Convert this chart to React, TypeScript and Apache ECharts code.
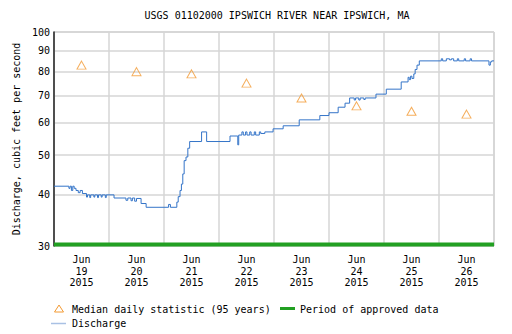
import React, { useEffect, useRef } from "react";
import * as echarts from "echarts";

const TITLE = "USGS 01102000 IPSWICH RIVER NEAR IPSWICH, MA";
const Y_NAME = "Discharge, cubic feet per second";
const MONTH = "Jun";
const YEAR = "2015";
const dayLabels = ["19", "20", "21", "22", "23", "24", "25", "26"];
const yTicks = [30, 40, 50, 60, 70, 80, 90, 100];

// median daily statistic (95 years), placed at noon of each day (hours since Jun 19 00:00)
const medianHours = [12, 36, 60, 84, 108, 132, 156, 180];
const medianValues = [83, 80, 79, 75, 69, 66, 64, 63];

// period of approved data (hours) and its level on the axis
const approvedHours = [0, 192];
const approvedLevel = 30;

// discharge, cubic feet per second (hours since Jun 19 00:00)
const dischargeHours = [
  0, 6.5, 7.0, 7.6, 8.2, 8.8, 9.6, 10.6, 11.4, 12.4, 14.2, 14.6, 15.6, 16.0, 17.4, 17.8,
  19.0, 19.4, 20.6, 21.0, 22.4, 22.8, 26.2, 31.4, 32.2, 33.6, 34.2, 35.2, 36.0, 38.0, 40.2,
  50.0, 50.8, 53.6, 54.2, 55.0, 55.6, 56.2, 56.8, 57.6, 58.4, 59.2, 64.4, 66.6, 76.8, 80.2,
  80.6, 82.0, 82.6, 83.6, 84.2, 85.4, 86.0, 87.4, 88.0, 89.6, 90.2, 92.0, 95.6, 100.0,
  107.0, 116.0, 120.0, 124.0, 127.0, 129.0, 131.0, 131.6, 133.0, 133.6, 135.2, 135.8,
  140.5, 145.0, 151.5, 154.5, 155.0, 155.6, 156.2, 157.0, 157.6, 158.4, 159.4, 169.0,
  169.6, 171.2, 172.6, 173.4, 174.4, 176.0, 176.6, 179.0, 179.6, 181.6, 182.2, 189.8,
  190.4, 191.0, 192.0,
];
const dischargeValues = [
  42, 41.5, 42, 41, 42, 41.5, 41, 40.5, 41, 40.3, 39.5, 40, 39.4, 40, 39.5, 40,
  39.4, 40, 39.5, 40, 39.4, 40, 39.3, 38.8, 39.3, 38.7, 39.3, 38.6, 39.2, 38.1, 37.3,
  37.9, 37.3, 38.4, 39.6, 41, 42.5, 45, 48.5, 49.5, 52, 54, 57, 54, 55.7, 53,
  56, 57, 56, 57, 56, 57, 56, 57, 56, 57, 56.5, 57, 58, 59,
  61, 62.5, 63.5, 65.5, 67, 69, 68.2, 69, 68.2, 69, 68.4, 69,
  70.5, 72.5, 75.5, 77.5, 76.5, 78, 77, 79, 81, 83, 85, 86,
  85, 86, 85.5, 86, 85, 86, 85, 86, 85, 86, 85, 83,
  84.5, 85, 85,
];

const FONT = "DejaVu Sans Mono";
const lg = (v: number) => Math.log10(v);

export default function App() {
  const ref = useRef<HTMLDivElement>(null);
  useEffect(() => {
    if (!ref.current) return;
    const chart = echarts.init(ref.current, null, { renderer: "svg" });
    const labelHours = dayLabels.map((_, i) => i * 24 + 12);
    const tickLogs = yTicks.map(lg);
    const option: any = {
      animation: false,
      title: {
        text: TITLE,
        left: 272,
        top: 5,
        textAlign: "center",
        textStyle: { fontFamily: FONT, fontSize: 10, fontWeight: "normal", color: "#000" },
      },
      grid: {
        left: 54,
        top: 32,
        width: 440,
        height: 214,
        show: true,
        borderColor: "#b8b8b8",
        borderWidth: 1,
      },
      xAxis: {
        type: "value",
        min: 0,
        max: 192,
        interval: 24,
        axisLine: { show: false },
        axisTick: { show: false },
        splitLine: { show: true, lineStyle: { color: "#d6d6d6", width: 1.5 } },
        axisLabel: {
          customValues: labelHours,
          margin: 8,
          fontFamily: FONT,
          fontSize: 10,
          lineHeight: 11.5,
          color: "#000",
          formatter: (v: number) => {
            const i = Math.round((v - 12) / 24);
            return `${MONTH}\n${dayLabels[i] ?? ""}\n${YEAR}`;
          },
        },
      },
      yAxis: {
        type: "value",
        min: lg(30),
        max: 2,
        name: Y_NAME,
        nameLocation: "middle",
        nameGap: 32,
        nameTextStyle: { fontFamily: FONT, fontSize: 10, color: "#000" },
        axisLine: { show: true, lineStyle: { color: "#222", width: 1.5 } },
        axisTick: { show: false, customValues: tickLogs },
        splitLine: { show: true, lineStyle: { color: "#d6d6d6", width: 1.5 } },
        axisLabel: {
          customValues: tickLogs,
          margin: 4,
          fontFamily: FONT,
          fontSize: 10,
          color: "#000",
          formatter: (v: number) => String(Math.round(Math.pow(10, v))),
        },
      },
      series: [
        {
          type: "line",
          name: "Period of approved data",
          // drawn just inside the bottom edge of the plot
          data: approvedHours.map((h) => [h, lg(approvedLevel) + 0.0035]),
          symbol: "none",
          clip: false,
          lineStyle: { color: "#22a022", width: 4 },
          z: 3,
        },
        {
          type: "line",
          name: "Discharge",
          step: "end",
          data: dischargeHours.map((h, i) => [h, lg(dischargeValues[i])]),
          symbol: "none",
          lineStyle: { color: "#3474c8", width: 1 },
          z: 4,
        },
        {
          type: "scatter",
          name: "Median daily statistic (95 years)",
          data: medianHours.map((h, i) => [h, lg(medianValues[i])]),
          symbol: "triangle",
          symbolSize: [9, 8],
          itemStyle: { color: "rgba(255,255,255,0)", borderColor: "#f39a33", borderWidth: 1 },
          z: 5,
        },
      ],
      graphic: [
        {
          type: "polygon",
          shape: { points: [[59, 305], [63.5, 312], [54.5, 312]] },
          style: { fill: "none", stroke: "#f39a33", lineWidth: 1 },
        },
        {
          type: "text",
          x: 72,
          y: 309,
          style: { text: "Median daily statistic (95 years)", fontFamily: FONT, fontSize: 10, fill: "#000", verticalAlign: "middle" },
        },
        {
          type: "line",
          shape: { x1: 280, y1: 308.5, x2: 295, y2: 308.5 },
          style: { stroke: "#22a022", lineWidth: 3 },
        },
        {
          type: "text",
          x: 300,
          y: 309,
          style: { text: "Period of approved data", fontFamily: FONT, fontSize: 10, fill: "#000", verticalAlign: "middle" },
        },
        {
          type: "line",
          shape: { x1: 51, y1: 323.5, x2: 66, y2: 323.5 },
          style: { stroke: "#a9c1e4", lineWidth: 1.5 },
        },
        {
          type: "text",
          x: 72,
          y: 323.5,
          style: { text: "Discharge", fontFamily: FONT, fontSize: 10, fill: "#000", verticalAlign: "middle" },
        },
      ],
    };
    chart.setOption(option);
    return () => chart.dispose();
  }, []);
  return (
    <div
      ref={ref}
      style={{ position: "fixed", left: 0, top: 0, width: 512, height: 334, background: "#fff" }}
    />
  );
}
